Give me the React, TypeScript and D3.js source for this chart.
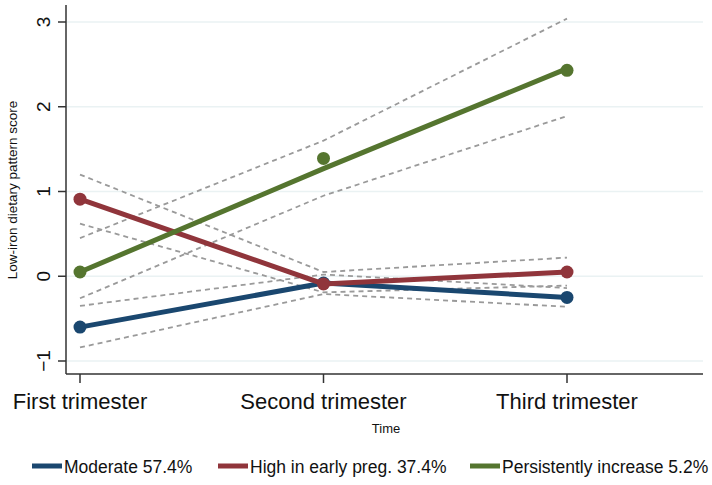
import { useMemo } from 'react';
import * as d3 from 'd3';

const times = ['First trimester', 'Second trimester', 'Third trimester'];
const groups = ['Moderate 57.4%', 'High in early preg. 37.4%', 'Persistently increase 5.2%'];
const colors = ['#1a476f', '#90353b', '#55752f'];

// fitted trajectory per group
const fitted = [
  [-0.6, -0.08, -0.25],
  [0.91, -0.09, 0.05],
  [0.05, 1.27, 2.45],
];
// observed group means (dots)
const observed = [
  [-0.6, -0.08, -0.25],
  [0.91, -0.09, 0.05],
  [0.05, 1.39, 2.43],
];
// 95% CI bounds
const upper = [
  [-0.35, 0.02, -0.14],
  [1.2, 0.05, 0.22],
  [0.45, 1.6, 3.04],
];
const lower = [
  [-0.84, -0.21, -0.36],
  [0.62, -0.19, -0.11],
  [-0.26, 0.95, 1.89],
];
const yTicks = [-1, 0, 1, 2, 3];

const width = 712;
const height = 485;
const font = 'Liberation Sans, Arial, sans-serif';

export default function App() {
  const x = useMemo(() => d3.scalePoint<string>().domain(times).range([80, 567]), []);
  const y = useMemo(() => d3.scaleLinear().domain([-1, 3]).range([361, 22]), []);
  const axisLeft = 66;
  const axisBottom = 374;
  const plotRight = 703;

  const line = d3
    .line<number>()
    .x((_, i) => x(times[i])!)
    .y((d) => y(d));

  const legendItems = [
    { sx: 32, tx: 64 },
    { sx: 218, tx: 250 },
    { sx: 470, tx: 502 },
  ];

  return (
    <svg
      width={width}
      height={height}
      style={{ position: 'absolute', left: 0, top: 0, background: '#fff' }}
      fontFamily={font}
    >
      {/* grid */}
      {yTicks.map((t) => (
        <line key={t} x1={axisLeft} x2={plotRight} y1={y(t)} y2={y(t)} stroke="#eaf2f3" strokeWidth={1.5} />
      ))}
      {/* confidence bands */}
      {[...upper, ...lower].map((s, i) => (
        <path key={i} d={line(s)!} fill="none" stroke="#9a9a9a" strokeWidth={1.8} strokeDasharray="5,4" />
      ))}
      {/* trajectories */}
      {fitted.map((s, gi) => (
        <g key={gi}>
          <path d={line(s)!} fill="none" stroke={colors[gi]} strokeWidth={5} />
          {observed[gi].map((v, i) => (
            <circle key={i} cx={x(times[i])} cy={y(v)} r={6.5} fill={colors[gi]} />
          ))}
        </g>
      ))}
      {/* axes */}
      <line x1={axisLeft} x2={axisLeft} y1={5} y2={axisBottom} stroke="#333" strokeWidth={1.5} />
      <line x1={axisLeft} x2={plotRight} y1={axisBottom} y2={axisBottom} stroke="#333" strokeWidth={1.5} />
      {yTicks.map((t) => (
        <g key={t}>
          <line x1={58} x2={axisLeft} y1={y(t)} y2={y(t)} stroke="#333" strokeWidth={1.5} />
          <text
            transform={`translate(50,${y(t)}) rotate(-90)`}
            textAnchor="middle"
            fontSize={19}
            fill="#111"
          >
            {t < 0 ? `\u2212${Math.abs(t)}` : t}
          </text>
        </g>
      ))}
      {times.map((t) => (
        <g key={t}>
          <line x1={x(t)} x2={x(t)} y1={axisBottom} y2={383} stroke="#333" strokeWidth={1.5} />
          <text x={x(t)} y={409} textAnchor="middle" fontSize={22} fill="#111">
            {t}
          </text>
        </g>
      ))}
      <text x={386} y={433} textAnchor="middle" fontSize={13} fill="#111">
        Time
      </text>
      <text transform="translate(17,190) rotate(-90)" textAnchor="middle" fontSize={13.5} fill="#111">
        Low-iron dietary pattern score
      </text>
      {/* legend */}
      {groups.map((g, i) => (
        <g key={g}>
          <line
            x1={legendItems[i].sx}
            x2={legendItems[i].tx - 2}
            y1={466}
            y2={466}
            stroke={colors[i]}
            strokeWidth={5}
          />
          <text x={legendItems[i].tx} y={473} fontSize={17.5} fill="#111">
            {g}
          </text>
        </g>
      ))}
    </svg>
  );
}
